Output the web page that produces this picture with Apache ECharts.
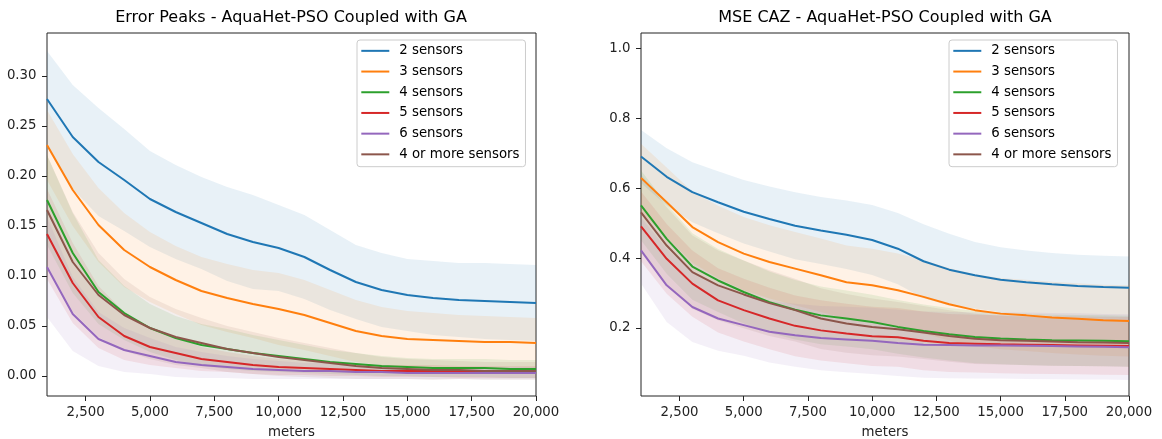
<!DOCTYPE html>
<html><head><meta charset="utf-8">
<script src="https://cdn.jsdelivr.net/npm/echarts@6/dist/echarts.min.js"></script>
<style>html,body{margin:0;padding:0;background:#fff}#c{width:1162px;height:439px}</style>
</head><body><div id="c"></div>
<script>
// ---------------- data ----------------
const meters = [1000,2000,3000,4000,5000,6000,7000,8000,9000,10000,11000,12000,13000,14000,15000,16000,17000,18000,19000,20000];
const xTicks = [2500,5000,7500,10000,12500,15000,17500,20000];
const leftYTicks = [0,0.05,0.10,0.15,0.20,0.25,0.30];
const rightYTicks = [0.2,0.4,0.6,0.8,1.0];
const seriesNames = ['2 sensors','3 sensors','4 sensors','5 sensors','6 sensors','4 or more sensors'];
const titles = ['Error Peaks - AquaHet-PSO Coupled with GA','MSE CAZ - AquaHet-PSO Coupled with GA'];

// Error Peaks: means
const ep2  = [0.277,0.239,0.214,0.196,0.177,0.164,0.153,0.142,0.134,0.128,0.119,0.106,0.094,0.086,0.081,0.078,0.076,0.075,0.074,0.073];
const ep3  = [0.231,0.186,0.151,0.126,0.109,0.096,0.085,0.078,0.072,0.067,0.061,0.053,0.045,0.040,0.037,0.036,0.035,0.034,0.034,0.033];
const ep4  = [0.176,0.123,0.084,0.063,0.048,0.038,0.031,0.027,0.023,0.020,0.017,0.014,0.012,0.010,0.009,0.008,0.008,0.008,0.007,0.007];
const ep5  = [0.142,0.093,0.059,0.040,0.029,0.023,0.017,0.014,0.011,0.009,0.008,0.007,0.006,0.005,0.005,0.005,0.004,0.004,0.004,0.004];
const ep6  = [0.109,0.062,0.037,0.026,0.020,0.014,0.011,0.009,0.007,0.006,0.005,0.005,0.004,0.004,0.003,0.003,0.003,0.003,0.003,0.003];
const ep4p = [0.166,0.114,0.081,0.061,0.048,0.039,0.033,0.027,0.023,0.019,0.016,0.013,0.010,0.008,0.007,0.006,0.006,0.005,0.005,0.005];
// Error Peaks: standard deviations (band half-widths)
const epS2  = [0.048,0.052,0.054,0.051,0.048,0.047,0.046,0.047,0.047,0.043,0.042,0.040,0.037,0.037,0.036,0.037,0.037,0.038,0.038,0.038];
const epS3  = [0.035,0.036,0.037,0.037,0.035,0.034,0.034,0.034,0.034,0.036,0.035,0.033,0.031,0.029,0.028,0.027,0.026,0.026,0.025,0.025];
const epS4  = [0.045,0.040,0.032,0.027,0.024,0.022,0.021,0.020,0.018,0.016,0.014,0.012,0.011,0.010,0.009,0.009,0.009,0.009,0.009,0.009];
const epS5  = [0.045,0.040,0.031,0.024,0.018,0.015,0.012,0.010,0.009,0.008,0.007,0.007,0.006,0.006,0.006,0.006,0.006,0.006,0.006,0.006];
const epS6  = [0.050,0.037,0.027,0.022,0.018,0.015,0.013,0.011,0.010,0.009,0.008,0.008,0.007,0.007,0.006,0.006,0.006,0.006,0.006,0.006];
const epS4p = [0.055,0.050,0.042,0.036,0.031,0.028,0.025,0.023,0.021,0.019,0.017,0.015,0.013,0.011,0.010,0.010,0.009,0.009,0.009,0.009];

// MSE CAZ: means
const mse2  = [0.691,0.633,0.589,0.560,0.533,0.512,0.493,0.479,0.467,0.452,0.427,0.391,0.367,0.351,0.338,0.331,0.325,0.320,0.317,0.315];
const mse3  = [0.630,0.560,0.489,0.446,0.413,0.389,0.370,0.351,0.331,0.322,0.308,0.289,0.268,0.251,0.241,0.236,0.230,0.226,0.222,0.220];
const mse4  = [0.551,0.455,0.376,0.336,0.303,0.274,0.252,0.236,0.227,0.217,0.203,0.191,0.182,0.174,0.170,0.167,0.165,0.164,0.163,0.162];
const mse5  = [0.491,0.398,0.327,0.279,0.251,0.227,0.206,0.193,0.184,0.176,0.173,0.163,0.157,0.155,0.153,0.152,0.151,0.150,0.149,0.148];
const mse6  = [0.422,0.322,0.260,0.227,0.208,0.189,0.179,0.171,0.167,0.163,0.157,0.152,0.151,0.150,0.150,0.149,0.148,0.147,0.146,0.145];
const mse4p = [0.531,0.436,0.360,0.322,0.296,0.271,0.251,0.227,0.213,0.203,0.196,0.187,0.177,0.169,0.165,0.163,0.161,0.159,0.158,0.157];
// MSE CAZ: standard deviations
const mseS2  = [0.076,0.082,0.086,0.089,0.091,0.093,0.096,0.096,0.098,0.100,0.102,0.106,0.103,0.095,0.093,0.091,0.090,0.090,0.090,0.090];
const mseS3  = [0.098,0.100,0.102,0.104,0.105,0.105,0.105,0.105,0.105,0.105,0.105,0.105,0.104,0.103,0.102,0.102,0.102,0.102,0.102,0.102];
const mseS4  = [0.100,0.100,0.095,0.090,0.090,0.088,0.085,0.083,0.080,0.078,0.077,0.076,0.075,0.075,0.074,0.074,0.073,0.073,0.073,0.073];
const mseS5  = [0.100,0.100,0.095,0.092,0.090,0.088,0.087,0.086,0.085,0.085,0.084,0.084,0.083,0.083,0.083,0.083,0.083,0.083,0.083,0.083];
const mseS6  = [0.095,0.105,0.100,0.092,0.088,0.088,0.090,0.092,0.094,0.095,0.095,0.095,0.095,0.095,0.095,0.095,0.095,0.095,0.094,0.094];
const mseS4p = [0.110,0.110,0.105,0.100,0.097,0.094,0.090,0.087,0.084,0.081,0.078,0.076,0.074,0.072,0.070,0.069,0.069,0.068,0.068,0.068];

// ---------------- styling ----------------
const colors = ['#1f77b4','#ff7f0e','#2ca02c','#d62728','#9467bd','#8c564b'];
const FONT = 'DejaVu Sans';
const INK = '#222';

function commas(v){ return String(Math.round(v)).replace(/\B(?=(\d{3})+(?!\d))/g, ','); }
function rgba(hex, a){
  const n = parseInt(hex.slice(1), 16);
  return 'rgba(' + ((n >> 16) & 255) + ',' + ((n >> 8) & 255) + ',' + (n & 255) + ',' + a + ')';
}

function panelSeries(gi, means, stds){
  const out = [];
  means.forEach((m, i) => {
    const s = stds[i], col = colors[i];
    const rows = meters.map((x, j) => [x, m[j] - s[j], m[j] + s[j]]);
    out.push({
      type:'custom', xAxisIndex:gi, yAxisIndex:gi, data:rows,
      encode:{x:0, y:[1, 2]}, clip:true, silent:true, z:1,
      renderItem:function(params, api){
        if (params.dataIndex !== 0) return null;
        const pts = [];
        for (let j = 0; j < rows.length; j++) pts.push(api.coord([rows[j][0], rows[j][2]]));
        for (let j = rows.length - 1; j >= 0; j--) pts.push(api.coord([rows[j][0], rows[j][1]]));
        return {type:'polygon', shape:{points:pts}, style:{fill:rgba(col, 0.1), stroke:null}};
      }
    });
  });
  means.forEach((m, i) => {
    out.push({
      type:'line', name:seriesNames[i], xAxisIndex:gi, yAxisIndex:gi,
      data: meters.map((x, j) => [x, m[j]]),
      symbol:'none', lineStyle:{width:2, color:colors[i]}, itemStyle:{color:colors[i]}, z:3,
      emphasis:{disabled:true}
    });
  });
  return out;
}

function xAxis(gi){
  return {
    gridIndex:gi, type:'value', min:1000, max:20000,
    axisLine:{show:false, onZero:false},
    axisTick:{show:true, length:5, lineStyle:{color:INK}, customValues:xTicks},
    axisLabel:{customValues:xTicks, formatter:commas, fontSize:13.3, color:INK, margin:10, fontFamily:FONT},
    splitLine:{show:false},
    name:'meters', nameLocation:'middle', nameGap:30,
    nameTextStyle:{fontSize:13.3, color:INK, fontFamily:FONT}
  };
}
function yAxis(gi, min, max, ticks, dec){
  return {
    gridIndex:gi, type:'value', min:min, max:max,
    axisLine:{show:false, onZero:false},
    axisTick:{show:true, length:5, lineStyle:{color:INK}, customValues:ticks},
    axisLabel:{customValues:ticks, formatter:v => v.toFixed(dec), fontSize:13.3, color:INK, margin:10.5, fontFamily:FONT},
    splitLine:{show:false}
  };
}
function legend(left){
  return {
    data: seriesNames, orient:'vertical', left:left, top:40,
    icon:'rect', itemWidth:28, itemHeight:2, itemGap:0,
    padding:[0.5, 6, 2, 4.3],
    backgroundColor:'rgba(255,255,255,0.8)', borderColor:'#cccccc', borderWidth:1, borderRadius:3,
    textStyle:{fontSize:13.3, color:'#000', fontFamily:FONT, lineHeight:20.7, padding:[0,0,0,5]},
    selectedMode:false
  };
}

const chart = echarts.init(document.getElementById('c'), null, {renderer:'canvas'});
chart.setOption({
  animation:false,
  backgroundColor:'#fff',
  grid:[
    {left:47, top:33, width:489, height:363, show:true, borderColor:INK, borderWidth:1, backgroundColor:'transparent', containLabel:false, outerBoundsMode:'none'},
    {left:641, top:33, width:488, height:363, show:true, borderColor:INK, borderWidth:1, backgroundColor:'transparent', containLabel:false, outerBoundsMode:'none'}
  ],
  xAxis:[xAxis(0), xAxis(1)],
  yAxis:[yAxis(0, -0.02, 0.343, leftYTicks, 2), yAxis(1, 0.005, 1.045, rightYTicks, 1)],
  legend:[legend(357), legend(949)],
  graphic:[
    {type:'text', x:291, y:18, style:{text:titles[0], fontSize:16, fontFamily:FONT, fill:'#000', align:'center', verticalAlign:'middle', textAlign:'center', textVerticalAlign:'middle'}},
    {type:'text', x:885, y:18, style:{text:titles[1], fontSize:16, fontFamily:FONT, fill:'#000', align:'center', verticalAlign:'middle', textAlign:'center', textVerticalAlign:'middle'}}
  ],
  series:[].concat(
    panelSeries(0, [ep2,ep3,ep4,ep5,ep6,ep4p], [epS2,epS3,epS4,epS5,epS6,epS4p]),
    panelSeries(1, [mse2,mse3,mse4,mse5,mse6,mse4p], [mseS2,mseS3,mseS4,mseS5,mseS6,mseS4p])
  )
});
</script></body></html>
